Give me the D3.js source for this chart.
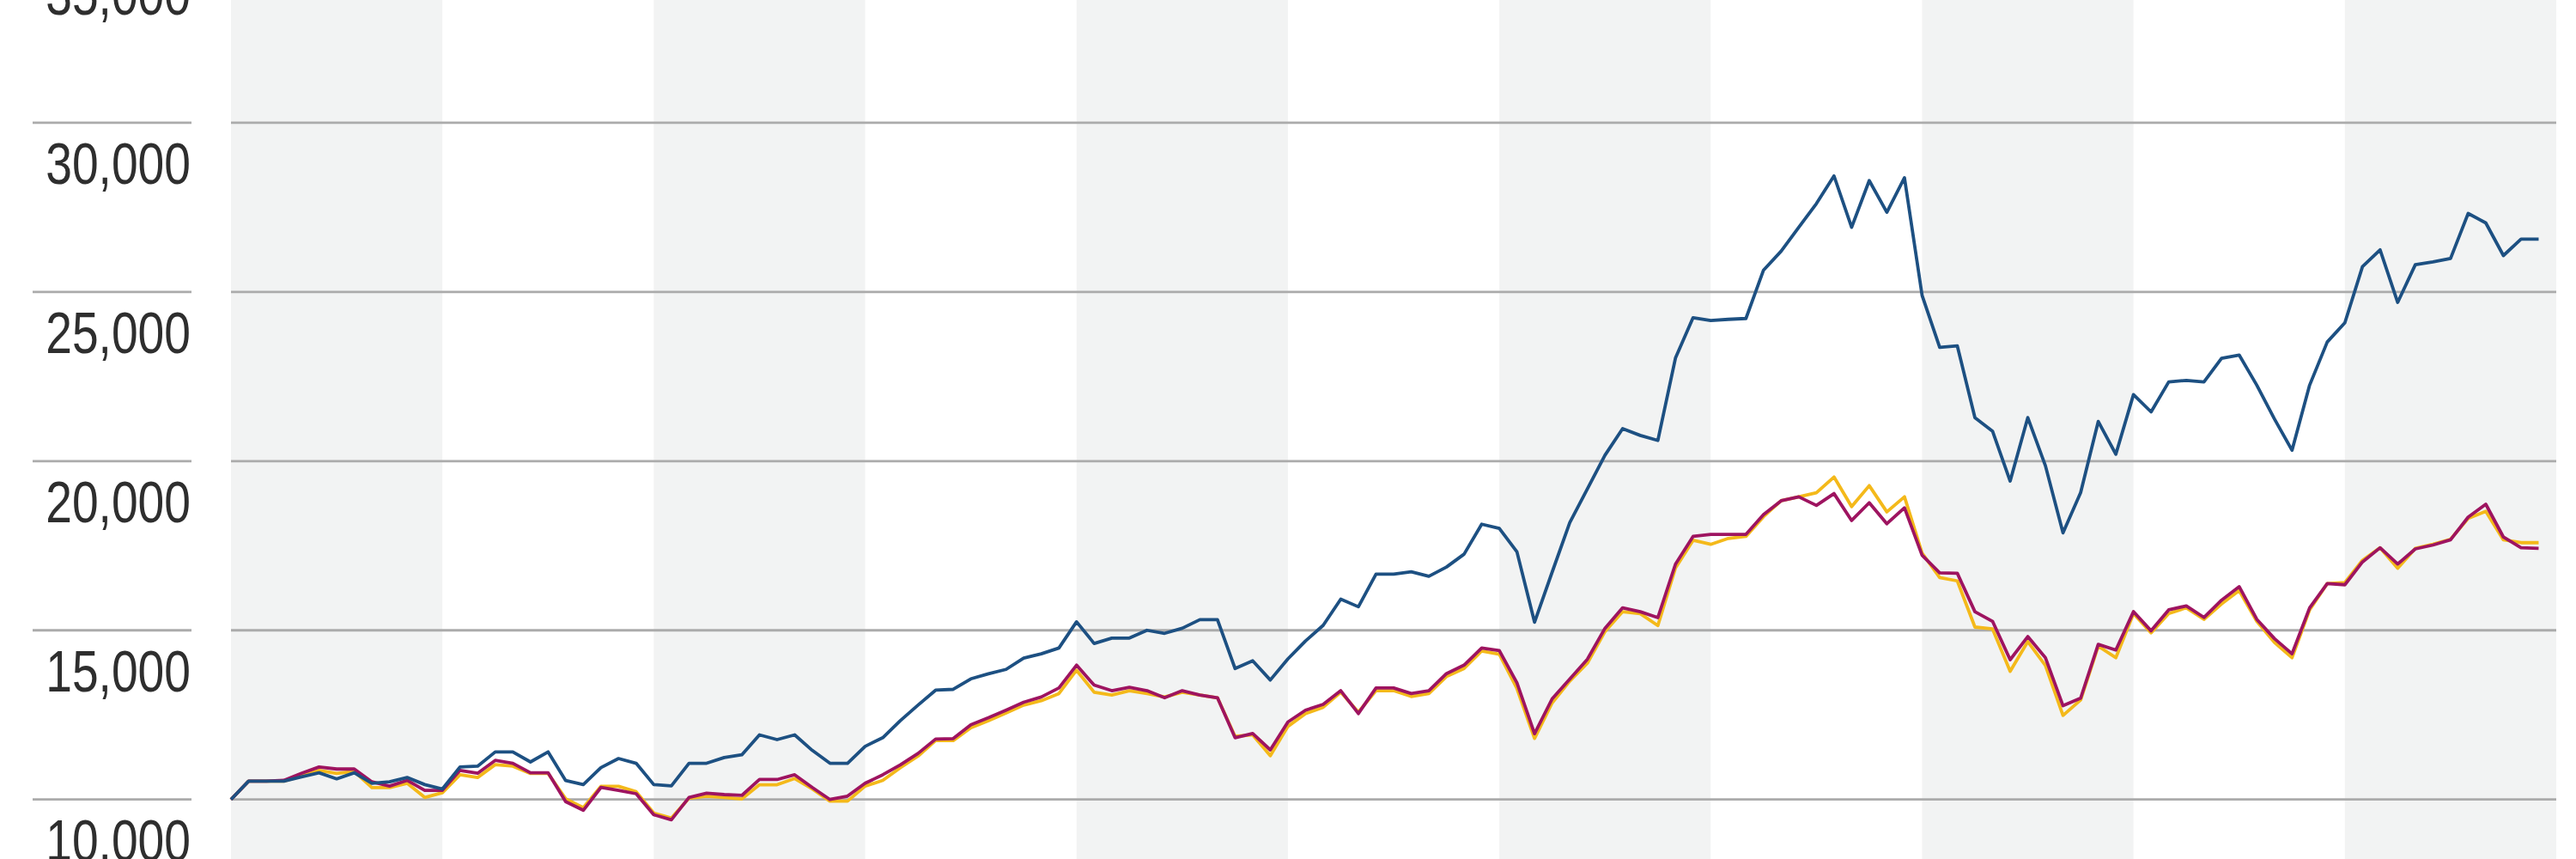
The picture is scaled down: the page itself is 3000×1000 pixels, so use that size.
<!DOCTYPE html>
<html><head><meta charset="utf-8">
<script src="https://cdn.jsdelivr.net/npm/d3@7"></script>
<style>html,body{margin:0;padding:0;background:#fff;overflow:hidden}</style>
</head><body><svg id="c" width="3000" height="1000"></svg>
<script>
// Growth of 10,000 — monthly values (132 months, 11 years)
const blueSeries = [10000,10540,10540,10540,10670,10790,10610,10790,10480,10520,10650,10440,10310,10960,10985,11405,11405,11110,11405,10560,10440,10940,11210,11070,10440,10400,11070,11070,11240,11320,11910,11770,11910,11450,11070,11070,11570,11825,12330,12790,13230,13255,13565,13715,13845,14180,14305,14475,15250,14610,14770,14770,15000,14910,15060,15315,15315,13870,14100,13530,14155,14685,15145,15920,15695,16660,16660,16730,16595,16870,17250,18135,18010,17320,15240,16720,18185,19180,20175,20960,20760,20610,23045,24240,24155,24190,24215,25645,26205,26910,27610,28430,26910,28290,27355,28375,24900,23360,23405,21285,20885,19410,21285,19865,17880,19070,21170,20205,21965,21455,22340,22385,22340,23040,23135,22245,21250,20320,22245,23520,24090,25750,26245,24690,25805,25890,25990,27320,27040,26075,26560,26560];
const magentaSeries = [10000,10540,10540,10565,10775,10960,10900,10900,10520,10395,10565,10270,10270,10860,10775,11155,11070,10790,10790,9935,9680,10355,10270,10170,9550,9400,10060,10185,10145,10120,10590,10590,10730,10355,10000,10100,10480,10730,11025,11360,11785,11800,12205,12415,12640,12875,13030,13295,13970,13380,13215,13315,13215,13005,13215,13085,13005,11825,11950,11465,12290,12640,12810,13215,12540,13295,13295,13130,13215,13720,13970,14475,14400,13450,11945,12975,13560,14145,15060,15665,15550,15375,16955,17775,17835,17835,17835,18420,18830,18945,18690,19040,18245,18770,18150,18620,17220,16700,16685,15550,15265,14130,14815,14190,12770,12995,14585,14415,15550,14985,15605,15720,15380,15890,16290,15325,14755,14305,15665,16380,16345,17020,17440,16960,17405,17520,17675,18345,18725,17755,17440,17420];
const yellowSeries = [10000,10540,10540,10540,10690,10860,10770,10830,10350,10350,10480,10060,10200,10730,10650,11030,10985,10770,10770,10020,9760,10390,10390,10230,9600,9450,10035,10100,10060,10015,10435,10435,10620,10310,9950,9950,10395,10565,10940,11280,11740,11740,12120,12330,12555,12790,12920,13130,13820,13170,13085,13215,13130,13030,13170,13085,13005,11865,11910,11295,12160,12540,12725,13170,12580,13215,13215,13045,13130,13635,13870,14390,14290,13280,11805,12855,13500,14030,14965,15550,15490,15140,16840,17660,17540,17715,17775,18360,18830,18945,19065,19530,18655,19275,18500,18945,17280,16560,16460,15095,15040,13790,14665,13960,12485,12940,14530,14190,15495,14925,15495,15665,15325,15780,16175,15265,14645,14190,15605,16380,16410,17070,17440,16835,17420,17545,17690,18305,18515,17675,17590,17590];
const yTicks = [10000, 15000, 20000, 25000, 30000, 35000];
const yearBands = [0,1,2,3,4,5,6,7,8,9,10];   // one band per year
const monthsPerYear = 12;

const svg = d3.select("#c");
const x = d3.scaleLinear().domain([0, yearBands.length * monthsPerYear]).range([269, 2977]);
const y = d3.scaleLinear().domain([10000, 30000]).range([930.7, 142.9]);

// alternating year bands
svg.append("g").selectAll("rect")
  .data(yearBands.filter(k => k % 2 === 0))
  .join("rect")
  .attr("x", k => x(k * monthsPerYear))
  .attr("width", k => x((k + 1) * monthsPerYear) - x(k * monthsPerYear))
  .attr("y", 0).attr("height", 1000)
  .attr("fill", "#f2f3f3");

// gridlines
const grid = svg.append("g");
yTicks.forEach(t => {
  grid.append("line").attr("x1", 38).attr("x2", 223)
    .attr("y1", y(t)).attr("y2", y(t))
    .attr("stroke", "#ababab").attr("stroke-width", 2.8);
  grid.append("line").attr("x1", x.range()[0]).attr("x2", x.range()[1])
    .attr("y1", y(t)).attr("y2", y(t))
    .attr("stroke", "#ababab").attr("stroke-width", 2.8);
});

// tick labels (condensed)
const fmt = d3.format(",");
svg.append("g").selectAll("g")
  .data(yTicks).join("g")
  .attr("transform", t => `translate(222,${y(t) + 71}) scale(0.8,1)`)
  .append("text")
  .attr("text-anchor", "end")
  .attr("font-family", "'Liberation Sans', Arial, sans-serif")
  .attr("font-size", 69)
  .attr("fill", "#2e2e2e")
  .text(t => fmt(t));

// series
const line = d3.line().x((d, i) => x(i)).y(d => y(d));
const series = [
  {values: yellowSeries, color: "#f4b91a"},
  {values: magentaSeries, color: "#9e1460"},
  {values: blueSeries, color: "#1d5082"}
];
svg.append("g").selectAll("path")
  .data(series).join("path")
  .attr("d", s => line(s.values))
  .attr("fill", "none")
  .attr("stroke", s => s.color)
  .attr("stroke-width", 3.8)
  .attr("stroke-linejoin", "round");
</script></body></html>
